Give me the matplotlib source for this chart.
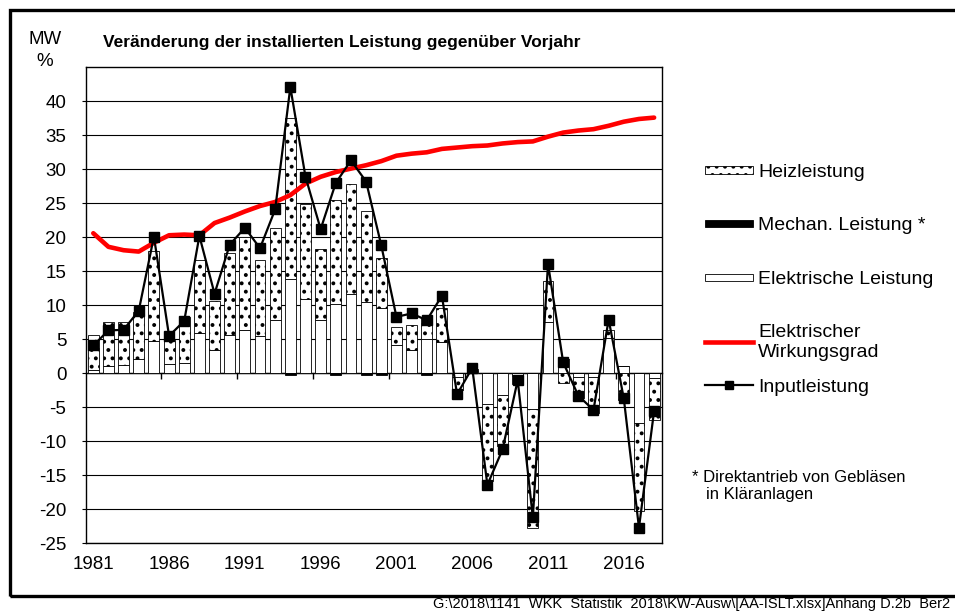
import numpy as np
import matplotlib
matplotlib.use("Agg")
import matplotlib.pyplot as plt
import matplotlib.patches as mpatches
from matplotlib.lines import Line2D
from matplotlib.legend_handler import HandlerPatch

plt.rcParams['font.family'] = ['Liberation Sans', 'DejaVu Sans']
plt.rcParams['hatch.linewidth'] = 1.6
plt.rcParams['axes.unicode_minus'] = False

# ---------------- data ----------------
years = list(range(1981, 2019))

# Elektrische Leistung [MW]
elek = [0.5, 1.1, 1.2, 2.1, 4.8, 1.3, 1.5, 5.9, 3.4, 5.6,
        6.4, 5.5, 7.9, 13.9, 10.9, 7.9, 10.2, 11.6, 10.5, 9.6,
        4.1, 3.4, 5.0, 4.6, -0.5, 0.3, -4.5, -3.2, -0.3, -5.2,
        7.6, 2.1, -0.6, -0.5, 5.2, 1.0, -7.3, -0.7]

# Mechan. Leistung [MW]
mech = [0, 0, 0, 0, 0, 0, 0, 0, 0, 0,
        0, 0, 0, -0.3, 0, 0, -0.3, 0, -0.3, -0.3,
        0, 0, -0.3, 0, 0, 0, 0, 0, 0, 0,
        0, 0, 0, 0, 0, 0, 0, 0]

# Heizleistung [MW]
heiz = [5.1, 6.4, 6.4, 6.9, 13.2, 3.6, 6.8, 10.8, 7.3, 12.1,
        13.7, 11.2, 13.4, 23.7, 14.0, 10.4, 15.3, 16.2, 13.4, 7.3,
        2.7, 3.7, 3.3, 5.0, -1.9, 0.3, -11.4, -7.5, -1.3, -17.6,
        5.9, -1.5, -3.1, -5.4, 1.2, -3.9, -12.9, -6.1]

# Elektrischer Wirkungsgrad [%]
wirkungsgrad = [20.6, 18.6, 18.1, 17.9, 19.2, 20.3, 20.4, 20.3, 22.1, 22.9,
                23.8, 24.6, 25.2, 26.2, 27.9, 28.9, 29.6, 30.1, 30.6, 31.2,
                32.0, 32.3, 32.5, 33.0, 33.2, 33.4, 33.5, 33.8, 34.0, 34.1,
                34.8, 35.4, 35.7, 35.9, 36.4, 37.0, 37.4, 37.6]

# Inputleistung [MW]
inputleistung = [4.1, 6.3, 6.4, 9.2, 20.1, 5.5, 7.7, 20.2, 11.7, 18.9,
                 21.4, 18.4, 24.1, 42.1, 28.9, 21.2, 28.0, 31.3, 28.2, 18.8,
                 8.3, 8.8, 7.8, 11.4, -3.1, 0.8, -16.4, -11.2, -1.0, -21.2,
                 16.1, 1.6, -3.3, -5.4, 7.9, -3.7, -22.7, -5.5]

title = 'Veränderung der installierten Leistung gegenüber Vorjahr'
pfad = r'G:\2018\1141  WKK  Statistik  2018\KW-Ausw\[AA-ISLT.xlsx]Anhang D.2b  Ber2'

# ---------------- figure ----------------
fig = plt.figure(figsize=(9.55, 6.12), dpi=100)
W, H = 955.0, 612.0
ax = fig.add_axes([85.7 / W, 1 - 543.3 / H, 576 / W, 476 / H])

x = np.arange(len(years))
pos = np.zeros(len(years))
neg = np.zeros(len(years))
bar_w = 0.72
styles = [
    (elek, dict(color='white', edgecolor='black', linewidth=0.6)),
    (mech, dict(color='black', edgecolor='black', linewidth=0.6)),
    (heiz, dict(color='white', edgecolor='black', linewidth=0.6, hatch='..')),
]
for vals, kw in styles:
    v = np.array(vals, dtype=float)
    bottom = np.where(v >= 0, pos, neg)
    ax.bar(x, v, width=bar_w, bottom=bottom, zorder=2, **kw)
    pos += np.clip(v, 0, None)
    neg += np.clip(v, None, 0)

ax.plot(x, wirkungsgrad, color='#ff0000', lw=3.3, solid_joinstyle='round',
        solid_capstyle='round', zorder=4)
ax.plot(x, inputleistung, color='black', lw=1.6, marker='s', ms=6.5, zorder=5)

# axes
ax.set_xlim(-0.5, len(years) - 0.5)
ax.set_ylim(-25, 45)
ax.set_yticks(range(-25, 41, 5))
ax.yaxis.grid(True, color='black', lw=0.8)
ax.set_axisbelow(True)
ax.tick_params(axis='y', length=3, pad=11, labelsize=13.5, color='black')
ax.set_xticks(x[::5])
ax.set_xticklabels([str(y) for y in years[::5]])
ax.tick_params(axis='x', length=0, pad=9, labelsize=13.5)
for s in ax.spines.values():
    s.set_color('black')
    s.set_linewidth(1.0)

# category axis crossing at zero
sec = ax.secondary_xaxis(25 / 70)
sec.set_xticks(np.arange(4.5, len(years), 5))
sec.set_xticklabels([])
sec.tick_params(axis='x', length=4, direction='out', color='black', width=1)
sec.spines['bottom'].set_color('black')
sec.spines['bottom'].set_linewidth(1.0)

# texts
fig.text(342 / W, 1 - 42 / H, title, ha='center', va='center', fontsize=12.5,
         fontweight='bold')
fig.text(45 / W, 1 - 40 / H, 'MW', ha='center', va='center', fontsize=13.5)
fig.text(45 / W, 1 - 62 / H, '%', ha='center', va='center', fontsize=13.5)


# legend
def thin_patch(legend, orig_handle, xdescent, ydescent, width, height, fontsize):
    return mpatches.Rectangle((-xdescent, -ydescent + height * 0.22), width, height * 0.56)


h_heiz = mpatches.Patch(facecolor='white', edgecolor='black', hatch='..', lw=0.6)
h_mech = mpatches.Patch(facecolor='black', edgecolor='black', lw=0.6)
h_elek = mpatches.Patch(facecolor='white', edgecolor='black', lw=0.6)
h_wg = Line2D([], [], color='#ff0000', lw=3.3)
h_in = Line2D([], [], color='black', lw=1.6, marker='s', ms=6)

hm = {mpatches.Patch: HandlerPatch(patch_func=thin_patch)}
leg1 = fig.legend([h_heiz, h_mech, h_elek, h_wg],
                  ['Heizleistung', 'Mechan. Leistung *', 'Elektrische Leistung',
                   'Elektrischer\nWirkungsgrad'],
                  loc='upper left', bbox_to_anchor=(705 / W, 1 - 163 / H),
                  frameon=False, fontsize=14, borderpad=0, borderaxespad=0,
                  handlelength=2.45, handletextpad=0.28, labelspacing=1.86,
                  handler_map=hm)
leg2 = fig.legend([h_in], ['Inputleistung'], loc='center left',
                  bbox_to_anchor=(705 / W, 1 - 387 / H), frameon=False,
                  fontsize=14, borderpad=0, borderaxespad=0,
                  handlelength=2.45, handletextpad=0.28)

fig.text(692 / W, 1 - 477 / H, '* Direktantrieb von Gebläsen', ha='left',
         va='center', fontsize=12)
fig.text(706 / W, 1 - 494 / H, 'in Kläranlagen', ha='left', va='center',
         fontsize=12)

# outer frame and file path
fig.patches.append(mpatches.Rectangle((9.5 / W, 1 - 596 / H), 1.0, 586 / H,
                                      transform=fig.transFigure, fill=False,
                                      edgecolor='black', lw=2.4))
fig.text(433 / W, 1 - 604 / H, pfad, ha='left', va='center', fontsize=10.5)

fig.savefig('out.png', dpi=100)
